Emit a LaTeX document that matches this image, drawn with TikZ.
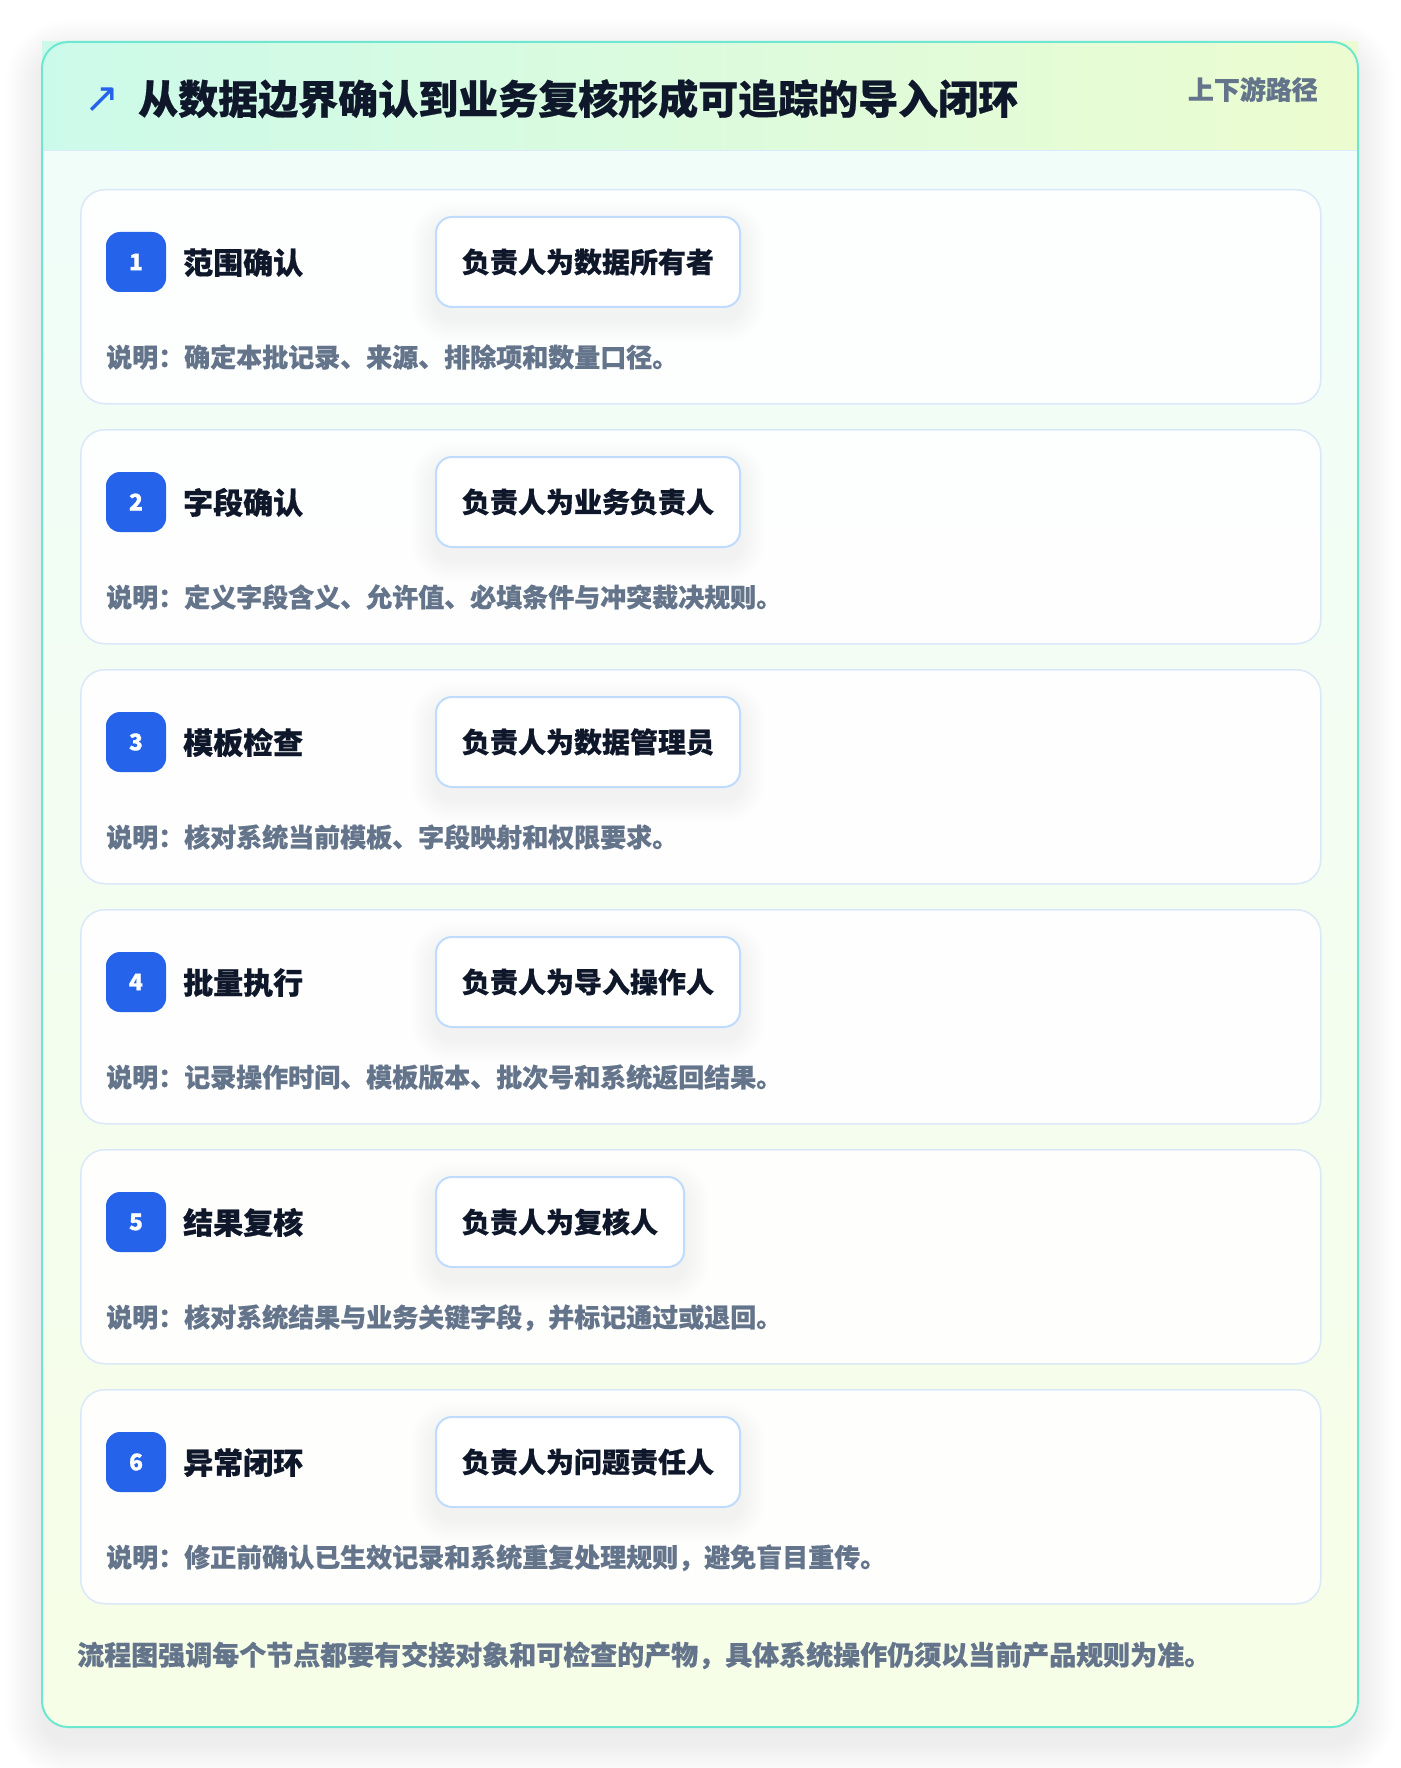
\documentclass[tikz,border=0pt]{standalone}
\usepackage{fontspec}
\setmainfont{Noto Sans CJK SC}[BoldFeatures={FakeBold=0.6}]
\newfontfamily\symfont{DejaVu Sans}
\definecolor{headl}{RGB}{204,250,234}
\definecolor{headr}{RGB}{236,252,208}
\definecolor{bodytop}{RGB}{240,253,250}
\definecolor{bodybot}{RGB}{247,254,231}
\definecolor{outerline}{RGB}{110,231,208}
\definecolor{headline}{RGB}{219,234,254}
\definecolor{cardline}{RGB}{219,232,250}
\definecolor{ownerline}{RGB}{191,219,254}
\definecolor{badgeblue}{RGB}{37,99,235}
\definecolor{inkdark}{RGB}{15,23,42}
\definecolor{inkgray}{RGB}{100,116,139}
\pgfdeclarelayer{back}
\pgfdeclarelayer{mid}
\pgfsetlayers{back,mid,main}
\tikzset{
  cardbox/.style={draw=cardline, line width=1.5pt, fill=white, fill opacity=0.9, draw opacity=1,
    rounded corners=24pt, minimum width=1240pt, minimum height=214pt, inner sep=0pt, anchor=north west},
  badgebox/.style={fill=badgeblue, rounded corners=14pt, minimum size=60pt, inner sep=0pt,
    text=white, font=\fontsize{23}{26}\selectfont\bfseries},
  steptitle/.style={anchor=base west, inner sep=0pt, text=inkdark, font=\fontsize{30}{36}\selectfont\bfseries},
  ownerbox/.style={anchor=west, draw=ownerline, line width=2pt, fill=white, rounded corners=16pt,
    inner xsep=26pt, inner ysep=0pt, minimum height=90pt, text=inkdark,
    font=\fontsize{28}{34}\selectfont\bfseries},
  desctext/.style={anchor=base west, inner sep=0pt, text=inkgray, font=\fontsize{26}{30}\selectfont\bfseries},
  softshade/.style={fill=black, fill opacity=#1, draw=none},
}
\begin{document}
\begin{tikzpicture}[x=1pt,y=-1pt]
\useasboundingbox (0,0) rectangle (1400,1768);
\begin{pgfonlayer}{back}
\fill[white] (0,0) rectangle (1400,1768);
% outer card soft shadow
\foreach \k in {1,...,18}{
  \pgfmathsetmacro\ee{2*\k}
  \pgfmathsetmacro\rr{26+2*\k}
  \fill[softshade=0.005, rounded corners=\rr pt] (42-\ee,42-\ee+14) rectangle (1358+\ee,1727+\ee+14);
}
% outer card
\path[rounded corners=26pt, top color=bodytop, bottom color=bodybot] (42,42) rectangle (1358,1727);
% header band
\path[left color=headl, right color=headr] (42,42) rectangle (1358,150);
\draw[headline, line width=1.5pt] (42,150.5) -- (1358,150.5);
\draw[outerline, line width=2pt, rounded corners=26pt] (42,42) rectangle (1358,1727);
\end{pgfonlayer}
% header texts
\node[inner sep=0pt, text=badgeblue, font=\symfont\fontsize{42}{46}\selectfont] (icon) at (102,100) {↗};
\node[anchor=base west, inner sep=0pt, text=inkdark, font=\fontsize{40}{48}\selectfont\bfseries] (title) at (138,114) {从数据边界确认到业务复核形成可追踪的导入闭环};
\node[anchor=base east, inner sep=0pt, text=inkgray, font=\fontsize{26}{30}\selectfont\bfseries] (tag) at (1318,99.5) {上下游路径};
% rows
\foreach \i/\t/\o/\d in {
  1/范围确认/负责人为数据所有者/说明：确定本批记录、来源、排除项和数量口径。,
  2/字段确认/负责人为业务负责人/说明：定义字段含义、允许值、必填条件与冲突裁决规则。,
  3/模板检查/负责人为数据管理员/说明：核对系统当前模板、字段映射和权限要求。,
  4/批量执行/负责人为导入操作人/说明：记录操作时间、模板版本、批次号和系统返回结果。,
  5/结果复核/负责人为复核人/说明：核对系统结果与业务关键字段，并标记通过或退回。,
  6/异常闭环/负责人为问题责任人/说明：修正前确认已生效记录和系统重复处理规则，避免盲目重传。}{
  \pgfmathsetmacro\yy{189+(\i-1)*240}
  \begin{pgfonlayer}{back}
    \node[cardbox] (card\i) at (80,\yy) {};
  \end{pgfonlayer}
  \node[badgebox] (badge\i) at (136,\yy+73) {\i};
  \node[steptitle] (step\i) at (183,\yy+85) {\t};
  \node[ownerbox] (owner\i) at (435,\yy+73) {\o};
  \node[desctext] (desc\i) at (106,\yy+178) {\d};
  \begin{pgfonlayer}{mid}
    \foreach \k in {1,...,12}{
      \pgfmathsetmacro\rr{16+2*\k}
      \fill[softshade=0.0045, rounded corners=\rr pt]
        ([xshift=-2*\k pt, yshift=2*\k pt-10pt]owner\i.north west) rectangle
        ([xshift=2*\k pt, yshift=-2*\k pt-10pt]owner\i.south east);
    }
  \end{pgfonlayer}
}
\node[anchor=base west, inner sep=0pt, text=inkgray, font=\fontsize{27}{32}\selectfont\bfseries] (footer) at (77,1665) {流程图强调每个节点都要有交接对象和可检查的产物，具体系统操作仍须以当前产品规则为准。};
\end{tikzpicture}
\end{document}
